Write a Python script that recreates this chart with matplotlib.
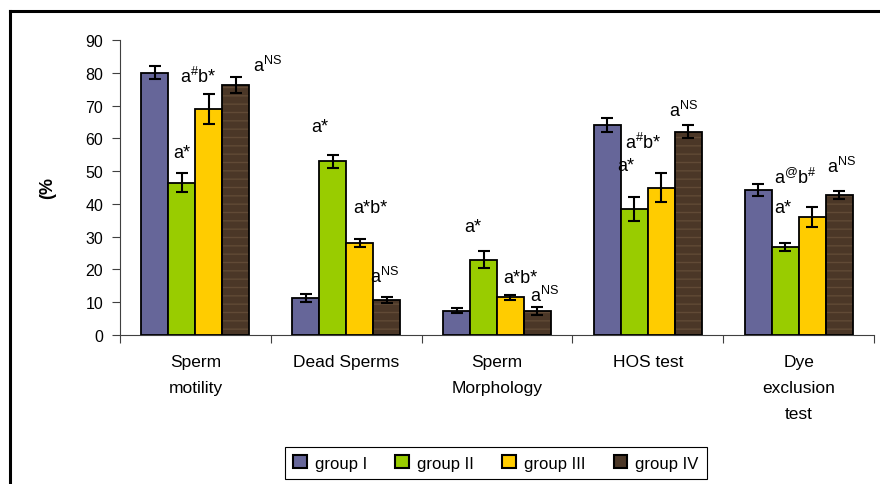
import numpy as np
import matplotlib
matplotlib.use('Agg')
import matplotlib.pyplot as plt
from matplotlib.patches import Patch
from matplotlib.lines import Line2D

plt.rcParams['font.family'] = ['Liberation Sans', 'DejaVu Sans']
plt.rcParams['mathtext.fontset'] = 'custom'
plt.rcParams['mathtext.rm'] = 'Liberation Sans'
plt.rcParams['mathtext.it'] = 'Liberation Sans'
plt.rcParams['mathtext.default'] = 'regular'

# data
categories = ['Sperm\nmotility', 'Dead Sperms', 'Sperm\nMorphology', 'HOS test', 'Dye\nexclusion\ntest']
groups = ['group I', 'group II', 'group III', 'group IV']
group1 = [80.0, 11.4, 7.4, 64.0, 44.2]
group2 = [46.5, 53.0, 23.0, 38.5, 26.8]
group3 = [69.0, 28.0, 11.5, 45.0, 36.0]
group4 = [76.3, 10.7, 7.2, 62.0, 42.7]
err1 = [2.0, 1.2, 0.7, 2.2, 1.8]
err2 = [2.8, 2.0, 2.5, 3.7, 1.2]
err3 = [4.5, 1.3, 0.8, 4.5, 3.0]
err4 = [2.4, 0.8, 1.2, 2.0, 1.2]
colors = ['#666699', '#99cc00', '#ffcc00', '#4b3727']

# significance labels: (text, x in category units, baseline y)
notes = [
    ('a*', -0.15, 54.3), (r'a$^{\#}$b*', -0.10, 77.2), (r'a$^{NS}$', 0.38, 80.5),
    ('a*', 0.77, 62.2), ('a*b*', 1.05, 37.5), (r'a$^{NS}$', 1.16, 16.2),
    ('a*', 1.78, 31.7), ('a*b*', 2.04, 16.2), (r'a$^{NS}$', 2.22, 10.4),
    ('a*', 2.80, 50.3), (r'a$^{\#}$b*', 2.85, 57.0), (r'a$^{NS}$', 3.14, 66.8),
    ('a*', 3.84, 37.5), (r'a$^{@}$b$^{\#}$', 3.84, 46.4), (r'a$^{NS}$', 4.19, 49.7),
]

fig = plt.figure(figsize=(8.8, 4.85), dpi=100)
ax = fig.add_axes([120/880, 1 - 336/485, 754/880, 295/485])

x = np.arange(len(categories))
w = 0.179
vals = [group1, group2, group3, group4]
errs = [err1, err2, err3, err4]
for i in range(4):
    pos = x + (i - 1.5) * w
    if i == 3:
        # wood-like streaks
        ax.bar(pos, vals[i], w, color=colors[i], edgecolor='#614a36', linewidth=0, hatch='--', zorder=2)
        ax.bar(pos, vals[i], w, fill=False, edgecolor='black', linewidth=1.3, zorder=3)
    else:
        ax.bar(pos, vals[i], w, color=colors[i], edgecolor='black', linewidth=1.3, zorder=3)
    ax.errorbar(pos, vals[i], yerr=errs[i], fmt='none', ecolor='black', elinewidth=1.5,
                capsize=4.3, capthick=1.5, zorder=4)

for txt, xx, yy in notes:
    ax.text(xx, yy, txt, fontsize=13, ha='left', va='baseline', zorder=5)

ax.set_xlim(-0.5, 4.5)
ax.set_ylim(0, 90)
ax.set_yticks(range(0, 91, 10))
ax.tick_params(axis='y', labelsize=11.5, length=6, width=0.8, color='#404040', pad=6)
ax.set_xticks(x)
ax.set_xticklabels(categories, fontsize=12.5, linespacing=1.9)
ax.tick_params(axis='x', which='major', length=0, pad=14)
ax.set_xticks(np.arange(-0.5, 5, 1), minor=True)
ax.tick_params(axis='x', which='minor', length=6, width=0.8, color='#404040')
for s in ['top', 'right']:
    ax.spines[s].set_visible(False)
for s in ['left', 'bottom']:
    ax.spines[s].set_color('#404040')
    ax.spines[s].set_linewidth(0.8)

fig.text(48/880, 1 - 188/485, '(%', rotation=90, fontsize=13, fontweight='bold',
         ha='center', va='center')

handles = [Patch(facecolor=c, edgecolor='black', linewidth=1.5) for c in colors]
leg = fig.legend(handles, groups, loc='upper center', bbox_to_anchor=(496/880, 1 - 448/485),
                 ncol=4, fontsize=12, handlelength=0.8, handleheight=0.8, handletextpad=0.5,
                 columnspacing=1.7, borderpad=0.5, borderaxespad=0, fancybox=False, framealpha=1)
leg.get_frame().set_edgecolor('black')
leg.get_frame().set_linewidth(0.8)

# outer frame (cropped box)
fig.add_artist(Line2D([10/880, 1], [1 - 12/485, 1 - 12/485], color='black', lw=2.2))
fig.add_artist(Line2D([10/880, 10/880], [0, 1 - 12/485], color='black', lw=2.2))

fig.savefig('out.png', dpi=100)
